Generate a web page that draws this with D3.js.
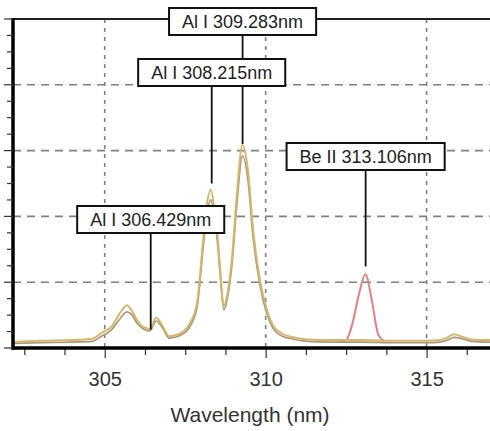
<!DOCTYPE html>
<html><head><meta charset="utf-8">
<script src="https://cdn.jsdelivr.net/npm/d3@7/dist/d3.min.js"></script>
<style>html,body{margin:0;padding:0;background:#fff;}svg{display:block;}</style>
</head><body>
<svg id="chart" width="490" height="431"></svg>
<script>
// ---------- data ----------
const wavelengths = [302.15,303.0,304.0,304.6,304.9,305.2,305.5,305.69,305.85,306.0,306.2,306.4,306.6,306.8,307.0,307.34,307.65,307.87,308.05,308.15,308.3,308.42,308.5,308.58,308.7,308.82,308.95,309.1,309.28,309.45,309.61,309.82,310.04,310.23,310.44,310.8,311.3,312.0,313.0,314.0,315.0,315.4,315.65,315.85,316.1,316.4,316.97];
const spectrumA = [0.09,0.11,0.12,0.14,0.23,0.32,0.55,0.65,0.56,0.43,0.32,0.29,0.46,0.33,0.18,0.22,0.38,0.69,1.60,2.10,2.40,2.05,1.75,1.25,0.64,0.85,1.35,2.30,3.09,2.70,1.80,1.04,0.58,0.34,0.24,0.17,0.13,0.12,0.12,0.11,0.11,0.12,0.16,0.21,0.17,0.13,0.12];
const spectrumB = [0.07,0.08,0.09,0.10,0.18,0.27,0.46,0.55,0.50,0.38,0.29,0.26,0.41,0.30,0.15,0.19,0.33,0.62,1.48,1.95,2.25,1.92,1.62,1.15,0.58,0.78,1.25,2.15,2.92,2.55,1.68,0.96,0.52,0.30,0.20,0.14,0.10,0.09,0.09,0.08,0.08,0.09,0.12,0.16,0.14,0.10,0.09];
const beWavelengths = [312.3,312.5,312.7,312.9,313.1,313.3,313.5,313.7];
const beSpectrum = [0.10,0.12,0.38,0.82,1.12,0.72,0.20,0.10];
const lineLabels = ["Al I 309.283nm","Al I 308.215nm","Be II 313.106nm","Al I 306.429nm"];
const lineWavelengths = [309.283,308.215,313.106,306.429];
const lineEnds = [3.10,2.50,1.24,0.28];
const xTickValues = [305,310,315];
const xTickLabels = ["305","310","315"];
const xAxisTitle = "Wavelength (nm)";

// ---------- layout ----------
const svg = d3.select("#chart");
const L = 13, R = 490, T = 19, B = 348;
const x = d3.scaleLinear().domain([302.15,316.97]).range([L,R]);
const y = d3.scaleLinear().domain([0,5]).range([B,T]);

svg.append("defs").append("clipPath").attr("id","clip")
  .append("rect").attr("x",L).attr("y",T).attr("width",R-L).attr("height",B-T);

// grid
const g = svg.append("g");
g.selectAll("line.hg").data([1,2,3,4]).join("line")
  .attr("x1",L).attr("x2",R).attr("y1",d=>y(d)).attr("y2",d=>y(d))
  .attr("stroke","#808080").attr("stroke-width",1.6).attr("stroke-dasharray","8,6");
g.selectAll("line.vg").data(xTickValues).join("line")
  .attr("x1",d=>x(d)).attr("x2",d=>x(d)).attr("y1",T).attr("y2",B)
  .attr("stroke","#808080").attr("stroke-width",1.6).attr("stroke-dasharray","4,5");

// spectra
const line = d3.line().x(d=>x(d[0])).y(d=>y(d[1])).curve(d3.curveMonotoneX);
const cg = svg.append("g").attr("clip-path","url(#clip)");
cg.append("path").datum(beWavelengths.map((w,i)=>[w,beSpectrum[i]]))
  .attr("d",line).attr("fill","none").attr("stroke","#e48080").attr("stroke-width",2);
cg.append("path").datum(wavelengths.map((w,i)=>[w,spectrumB[i]]))
  .attr("d",line).attr("fill","none").attr("stroke","#a39a78").attr("stroke-width",1.7);
cg.append("path").datum(wavelengths.map((w,i)=>[w,spectrumA[i]]))
  .attr("d",line).attr("fill","none").attr("stroke","#d9b56c").attr("stroke-width",2);

// axes frame
svg.append("line").attr("x1",L).attr("x2",R).attr("y1",T).attr("y2",T).attr("stroke","#222").attr("stroke-width",2);
svg.append("line").attr("x1",L).attr("x2",L).attr("y1",T-1).attr("y2",B+2).attr("stroke","#000").attr("stroke-width",3.5);

// y ticks (left, outward)
const yTicks = d3.range(0,5.01,0.25);
svg.selectAll("line.yt").data(yTicks).join("line")
  .attr("x1",d=>Number.isInteger(d)?4:7).attr("x2",L).attr("y1",d=>y(d)).attr("y2",d=>y(d))
  .attr("stroke","#333").attr("stroke-width",1.2);

// x axis
const xAxis = d3.axisBottom(x)
  .tickValues(d3.range(302.5,317,1.25))
  .tickSize(7).tickFormat(d=>{const i=xTickValues.indexOf(d);return i>=0?xTickLabels[i]:"";});
const ax = svg.append("g").attr("transform",`translate(0,${B})`).call(xAxis);
ax.select(".domain").remove();
ax.selectAll(".tick line").attr("stroke","#333").attr("stroke-width",1.2)
  .attr("y2",d=>xTickValues.includes(d)?10:7);
ax.selectAll(".tick text").attr("font-family","Liberation Sans, Arial, sans-serif")
  .attr("font-size",20).attr("fill","#333").attr("dy",0).attr("y",38);
svg.append("line").attr("x1",L).attr("x2",R).attr("y1",B).attr("y2",B).attr("stroke","#000").attr("stroke-width",3.5);

svg.append("text").attr("x",250).attr("y",422).attr("text-anchor","middle")
  .attr("font-family","Liberation Sans, Arial, sans-serif").attr("font-size",21).attr("fill","#333")
  .text(xAxisTitle);

// line labels
const boxTops = [8,59,143,206];
const labelDx = [0,3.5,0,0];
const boxH = 27;
lineLabels.forEach((lab,i)=>{
  const cx = x(lineWavelengths[i]) + labelDx[i];
  const grp = svg.append("g");
  grp.append("line").attr("x1",cx).attr("x2",cx).attr("y1",boxTops[i]+boxH).attr("y2",y(lineEnds[i]))
    .attr("stroke","#111").attr("stroke-width",1.8);
  const rect = grp.append("rect");
  const t = grp.append("text").attr("x",cx).attr("y",boxTops[i]+boxH/2+6.5).attr("text-anchor","middle")
    .attr("font-family","Liberation Sans, Arial, sans-serif").attr("font-size",18).attr("fill","#222").text(lab);
  const w = t.node().getComputedTextLength()+26;
  rect.attr("x",cx-w/2).attr("y",boxTops[i]).attr("width",w).attr("height",boxH)
    .attr("fill","#fff").attr("stroke","#111").attr("stroke-width",2);
});
</script>
</body></html>
